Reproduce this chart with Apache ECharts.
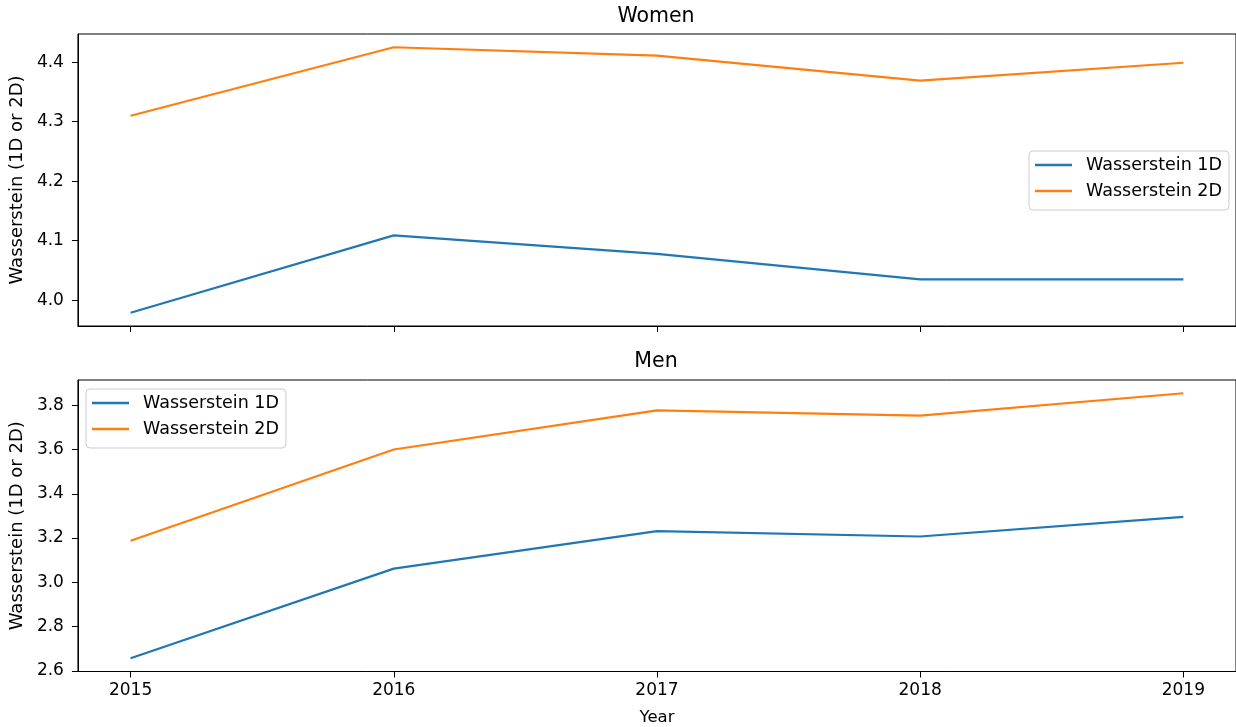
<!DOCTYPE html>
<html>
<head>
<meta charset="utf-8">
<script src="https://cdn.jsdelivr.net/npm/echarts@6/dist/echarts.min.js"></script>
<style>
html,body{margin:0;padding:0;background:#fff;}
#chart{width:1236px;height:727px;}
</style>
</head>
<body>
<div id="chart"></div>
<script>
var years = [2015, 2016, 2017, 2018, 2019];
var women1D = [3.979, 4.109, 4.078, 4.035, 4.035];
var women2D = [4.310, 4.425, 4.411, 4.369, 4.399];
var men1D = [2.657, 3.062, 3.231, 3.207, 3.296];
var men2D = [3.188, 3.600, 3.777, 3.753, 3.854];
var womenTicks = [4.0, 4.1, 4.2, 4.3, 4.4];
var menTicks = [2.6, 2.8, 3.0, 3.2, 3.4, 3.6, 3.8];
var seriesNames = ['Wasserstein 1D', 'Wasserstein 2D'];
var panelTitles = ['Women', 'Men'];

var FONT = 'DejaVu Sans';
var BLUE = '#1f77b4', ORANGE = '#ff7f0e';

function pairs(xs, ys) { return xs.map(function (x, i) { return [x, ys[i]]; }); }
function padded(arrs) {
  var all = [].concat.apply([], arrs);
  var lo = Math.min.apply(null, all), hi = Math.max.apply(null, all);
  var m = (hi - lo) * 0.05;
  return [lo - m, hi + m];
}
var xm = (years[years.length - 1] - years[0]) * 0.05;
var xMin = years[0] - xm, xMax = years[years.length - 1] + xm;
var wR = padded([women1D, women2D]);
var mR = padded([men1D, men2D]);

var chart = echarts.init(document.getElementById('chart'), null, {renderer: 'canvas'});

function xAxisCfg(idx, showLabels) {
  return {
    type: 'value', gridIndex: idx, min: xMin, max: xMax,
    axisLine: {show: true, onZero: false, lineStyle: {color: '#000', width: 1}},
    axisTick: {show: true, length: 6, lineStyle: {color: '#000', width: 1}, customValues: years},
    axisLabel: {show: showLabels, customValues: years, margin: 11, color: '#000',
      fontFamily: FONT, fontSize: 17, formatter: function (v) { return String(Math.round(v)); }},
    splitLine: {show: false},
    name: showLabels ? 'Year' : '', nameLocation: 'middle', nameGap: 37.5,
    nameTextStyle: {fontFamily: FONT, fontSize: 16.5, color: '#000'}
  };
}
function yAxisCfg(idx, range, ticks) {
  return {
    type: 'value', gridIndex: idx, min: range[0], max: range[1],
    axisLine: {show: true, onZero: false, lineStyle: {color: '#000', width: 1}},
    axisTick: {show: true, length: 6, lineStyle: {color: '#000', width: 1}, customValues: ticks},
    axisLabel: {show: true, customValues: ticks, margin: 14, color: '#000',
      fontFamily: FONT, fontSize: 17, formatter: function (v) { return v.toFixed(1); }},
    splitLine: {show: false},
    name: 'Wasserstein (1D or 2D)', nameLocation: 'middle', nameGap: 47,
    nameTextStyle: {fontFamily: FONT, fontSize: 18, color: '#000'}
  };
}
function legendCfg(left, top) {
  return {
    orient: 'vertical', left: left, top: top,
    data: seriesNames, icon: 'rect', itemWidth: 37, itemHeight: 2.5, itemGap: 8,
    padding: [5, 7, 10, 6],
    backgroundColor: 'rgba(255,255,255,0.8)', borderColor: '#cccccc', borderWidth: 1, borderRadius: 4,
    textStyle: {fontFamily: FONT, fontSize: 17.5, color: '#000', lineHeight: 18, padding: [0, 0, 0, 9]},
    selectedMode: false
  };
}
function lineSeries(name, color, xi, data) {
  return {
    name: name, type: 'line', xAxisIndex: xi, yAxisIndex: xi, data: data,
    symbol: 'none', showSymbol: false, color: color,
    lineStyle: {color: color, width: 2.2}, emphasis: {disabled: true}
  };
}

chart.setOption({
  animation: false,
  backgroundColor: '#fff',
  title: [
    {text: panelTitles[0], left: 656, top: 6, textAlign: 'center', padding: 0,
      textStyle: {fontFamily: FONT, fontSize: 20.5, fontWeight: 'normal', color: '#000'}},
    {text: panelTitles[1], left: 656, top: 351, textAlign: 'center', padding: 0,
      textStyle: {fontFamily: FONT, fontSize: 20.5, fontWeight: 'normal', color: '#000'}}
  ],
  grid: [
    {left: 76.5, top: 34, width: 1160, height: 292, show: true, borderColor: '#000', borderWidth: 1, backgroundColor: 'transparent'},
    {left: 76.5, top: 380, width: 1160, height: 292, show: true, borderColor: '#000', borderWidth: 1, backgroundColor: 'transparent'}
  ],
  xAxis: [xAxisCfg(0, false), xAxisCfg(1, true)],
  yAxis: [yAxisCfg(0, wR, womenTicks), yAxisCfg(1, mR, menTicks)],
  legend: [legendCfg(1029, 151), legendCfg(86, 389)],
  series: [
    lineSeries(seriesNames[0], BLUE, 0, pairs(years, women1D)),
    lineSeries(seriesNames[1], ORANGE, 0, pairs(years, women2D)),
    lineSeries(seriesNames[0], BLUE, 1, pairs(years, men1D)),
    lineSeries(seriesNames[1], ORANGE, 1, pairs(years, men2D))
  ]
});
</script>
</body>
</html>
